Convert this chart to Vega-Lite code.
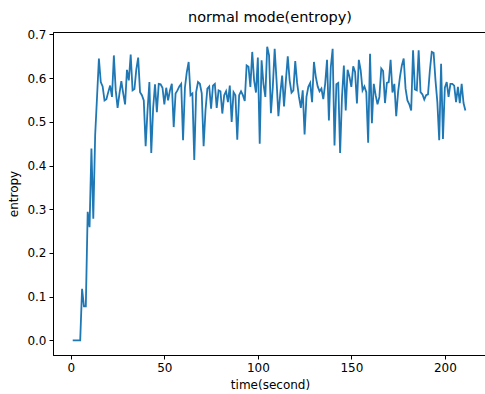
{
  "$schema": "https://vega.github.io/schema/vega-lite/v6.json",
  "autosize": {"type": "none"},
  "padding": {"left": 53, "top": 32, "right": 0, "bottom": 39},
  "width": 434,
  "height": 323,
  "background": "white",
  "title": {"text": "normal mode(entropy)", "font": "DejaVu Sans", "fontSize": 14.5, "fontWeight": "normal", "color": "black", "offset": 3},
  "config": {
    "view": {"stroke": "black", "strokeWidth": 1},
    "axis": {"labelFont": "DejaVu Sans", "titleFont": "DejaVu Sans", "labelFontSize": 12, "titleFontSize": 12, "titleFontWeight": "normal", "labelColor": "black", "titleColor": "black", "tickColor": "black", "domainColor": "black", "grid": false, "tickSize": 4, "labelPadding": 3}
  },
  "data": {"values": [
    {"t":1,"v":0},{"t":2,"v":0},{"t":3,"v":0},{"t":4,"v":0},{"t":5,"v":0},
    {"t":6,"v":0.118},{"t":7,"v":0.078},{"t":8,"v":0.078},{"t":9,"v":0.294},{"t":10,"v":0.259},
    {"t":11,"v":0.439},{"t":12,"v":0.278},{"t":13,"v":0.47},{"t":14,"v":0.557},{"t":15,"v":0.645},
    {"t":16,"v":0.591},{"t":17,"v":0.581},{"t":18,"v":0.549},{"t":19,"v":0.552},{"t":20,"v":0.568},
    {"t":21,"v":0.583},{"t":22,"v":0.557},{"t":23,"v":0.652},{"t":24,"v":0.572},{"t":25,"v":0.532},
    {"t":26,"v":0.565},{"t":27,"v":0.593},{"t":28,"v":0.565},{"t":29,"v":0.54},{"t":30,"v":0.619},
    {"t":31,"v":0.595},{"t":32,"v":0.654},{"t":33,"v":0.572},{"t":34,"v":0.575},{"t":35,"v":0.62},
    {"t":36,"v":0.647},{"t":37,"v":0.568},{"t":38,"v":0.561},{"t":39,"v":0.549},{"t":40,"v":0.444},
    {"t":41,"v":0.526},{"t":42,"v":0.591},{"t":43,"v":0.429},{"t":44,"v":0.531},{"t":45,"v":0.586},
    {"t":46,"v":0.522},{"t":47,"v":0.587},{"t":48,"v":0.586},{"t":49,"v":0.578},{"t":50,"v":0.54},
    {"t":51,"v":0.578},{"t":52,"v":0.549},{"t":53,"v":0.572},{"t":54,"v":0.587},{"t":55,"v":0.488},
    {"t":56,"v":0.565},{"t":57,"v":0.572},{"t":58,"v":0.581},{"t":59,"v":0.587},{"t":60,"v":0.458},
    {"t":61,"v":0.578},{"t":62,"v":0.614},{"t":63,"v":0.637},{"t":64,"v":0.561},{"t":65,"v":0.565},
    {"t":66,"v":0.413},{"t":67,"v":0.568},{"t":68,"v":0.591},{"t":69,"v":0.587},{"t":70,"v":0.565},
    {"t":71,"v":0.444},{"t":72,"v":0.526},{"t":73,"v":0.576},{"t":74,"v":0.581},{"t":75,"v":0.53},
    {"t":76,"v":0.583},{"t":77,"v":0.587},{"t":78,"v":0.532},{"t":79,"v":0.572},{"t":80,"v":0.57},
    {"t":81,"v":0.519},{"t":82,"v":0.561},{"t":83,"v":0.57},{"t":84,"v":0.545},{"t":85,"v":0.583},
    {"t":86,"v":0.5},{"t":87,"v":0.568},{"t":88,"v":0.561},{"t":89,"v":0.459},{"t":90,"v":0.561},
    {"t":91,"v":0.57},{"t":92,"v":0.561},{"t":93,"v":0.548},{"t":94,"v":0.629},{"t":95,"v":0.626},
    {"t":96,"v":0.58},{"t":97,"v":0.66},{"t":98,"v":0.595},{"t":99,"v":0.567},{"t":100,"v":0.647},
    {"t":101,"v":0.45},{"t":102,"v":0.641},{"t":103,"v":0.587},{"t":104,"v":0.557},{"t":105,"v":0.672},
    {"t":106,"v":0.652},{"t":107,"v":0.52},{"t":108,"v":0.58},{"t":109,"v":0.667},{"t":110,"v":0.595},
    {"t":111,"v":0.513},{"t":112,"v":0.565},{"t":113,"v":0.606},{"t":114,"v":0.535},{"t":115,"v":0.595},
    {"t":116,"v":0.65},{"t":117,"v":0.595},{"t":118,"v":0.567},{"t":119,"v":0.572},{"t":120,"v":0.639},
    {"t":121,"v":0.589},{"t":122,"v":0.557},{"t":123,"v":0.532},{"t":124,"v":0.572},{"t":125,"v":0.471},
    {"t":126,"v":0.557},{"t":127,"v":0.58},{"t":128,"v":0.589},{"t":129,"v":0.545},{"t":130,"v":0.637},
    {"t":131,"v":0.603},{"t":132,"v":0.581},{"t":133,"v":0.57},{"t":134,"v":0.576},{"t":135,"v":0.552},
    {"t":136,"v":0.587},{"t":137,"v":0.642},{"t":138,"v":0.503},{"t":139,"v":0.625},{"t":140,"v":0.667},
    {"t":141,"v":0.446},{"t":142,"v":0.586},{"t":143,"v":0.589},{"t":144,"v":0.429},{"t":145,"v":0.557},
    {"t":146,"v":0.629},{"t":147,"v":0.526},{"t":148,"v":0.619},{"t":149,"v":0.603},{"t":150,"v":0.58},
    {"t":151,"v":0.627},{"t":152,"v":0.614},{"t":153,"v":0.542},{"t":154,"v":0.642},{"t":155,"v":0.618},
    {"t":156,"v":0.572},{"t":157,"v":0.581},{"t":158,"v":0.568},{"t":159,"v":0.452},{"t":160,"v":0.656},
    {"t":161,"v":0.497},{"t":162,"v":0.587},{"t":163,"v":0.561},{"t":164,"v":0.54},{"t":165,"v":0.557},
    {"t":166,"v":0.622},{"t":167,"v":0.616},{"t":168,"v":0.543},{"t":169,"v":0.589},{"t":170,"v":0.591},
    {"t":171,"v":0.642},{"t":172,"v":0.567},{"t":173,"v":0.587},{"t":174,"v":0.513},{"t":175,"v":0.568},
    {"t":176,"v":0.603},{"t":177,"v":0.629},{"t":178,"v":0.645},{"t":179,"v":0.576},{"t":180,"v":0.549},
    {"t":181,"v":0.54},{"t":182,"v":0.526},{"t":183,"v":0.664},{"t":184,"v":0.574},{"t":185,"v":0.572},
    {"t":186,"v":0.664},{"t":187,"v":0.568},{"t":188,"v":0.563},{"t":189,"v":0.551},{"t":190,"v":0.561},
    {"t":191,"v":0.563},{"t":192,"v":0.618},{"t":193,"v":0.66},{"t":194,"v":0.658},{"t":195,"v":0.595},
    {"t":196,"v":0.545},{"t":197,"v":0.458},{"t":198,"v":0.633},{"t":199,"v":0.461},{"t":200,"v":0.578},
    {"t":201,"v":0.591},{"t":202,"v":0.557},{"t":203,"v":0.587},{"t":204,"v":0.587},{"t":205,"v":0.583},
    {"t":206,"v":0.545},{"t":207,"v":0.58},{"t":208,"v":0.543},{"t":209,"v":0.587},{"t":210,"v":0.543},
    {"t":211,"v":0.526}
  ]},
  "mark": {"type": "line", "color": "#1f77b4", "strokeWidth": 1.8, "clip": true},
  "encoding": {
    "x": {"field": "t", "type": "quantitative", "title": "time(second)",
      "scale": {"domain": [-9.55, 222.55], "nice": false, "zero": false},
      "axis": {"values": [0, 50, 100, 150, 200], "titlePadding": 6}},
    "y": {"field": "v", "type": "quantitative", "title": "entropy",
      "scale": {"domain": [-0.0336, 0.7056], "nice": false, "zero": false},
      "axis": {"values": [0, 0.1, 0.2, 0.3, 0.4, 0.5, 0.6, 0.7], "format": ".1f", "titlePadding": 6}}
  }
}
